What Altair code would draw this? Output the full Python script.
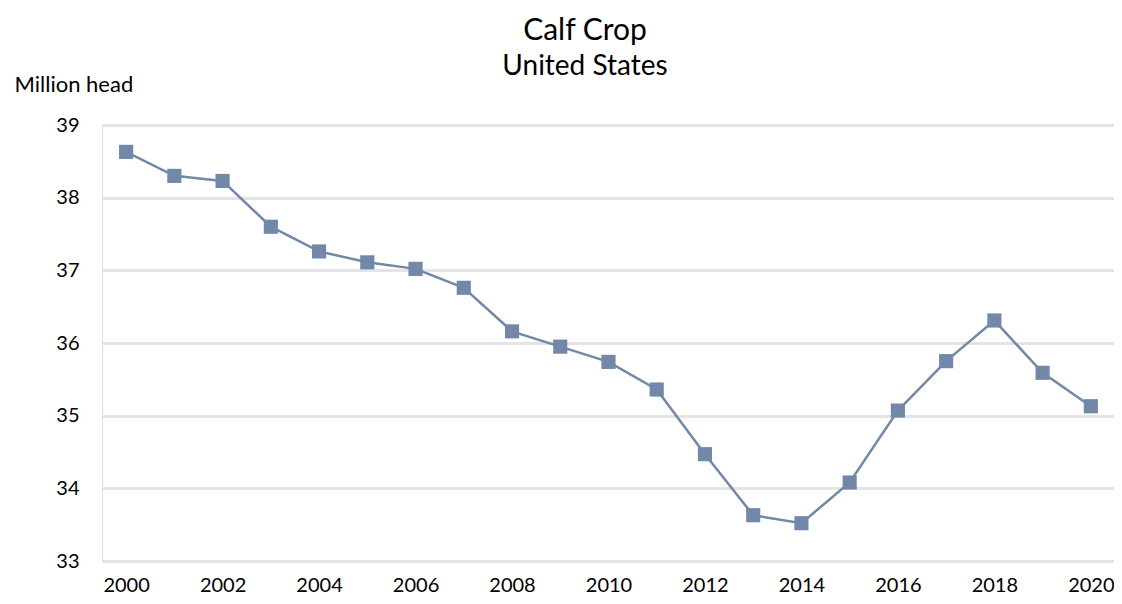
import altair as alt
import pandas as pd

years = list(range(2000, 2021))
calves = [38.63, 38.30, 38.23, 37.60, 37.26, 37.11, 37.02, 36.76, 36.16, 35.95,
          35.74, 35.36, 34.47, 33.63, 33.52, 34.08, 35.07, 35.75, 36.31, 35.59, 35.13]
x_ticks = list(range(2000, 2021, 2))
y_ticks = [33, 34, 35, 36, 37, 38, 39]

df = pd.DataFrame({"year": years, "value": calves})

FONT = "Lato"
COLOR = "#7288a8"

x = alt.X("year:Q",
          scale=alt.Scale(domain=[1999.5, 2020.48], nice=False, zero=False),
          axis=alt.Axis(values=x_ticks, format="d", title=None, grid=False,
                        domain=False, ticks=False, tickSize=0, labelPadding=14,
                        labelFontSize=20, labelFont=FONT, labelColor="#000000"))
y = alt.Y("value:Q",
          scale=alt.Scale(domain=[33, 39], nice=False, zero=False),
          axis=alt.Axis(values=y_ticks, title="Million head", titleAngle=0,
                        titleAlign="left", titleBaseline="alphabetic",
                        titleX=-88, titleY=-34, titleFont=FONT, titleFontSize=22,
                        titleFontWeight="normal", titleColor="#000000",
                        grid=True, gridColor="#e4e4e4", gridWidth=3,
                        domain=False, ticks=False, tickSize=0, labelPadding=23,
                        labelFontSize=20, labelFont=FONT, labelColor="#000000"))

line = alt.Chart(df).mark_line(color=COLOR, strokeWidth=2.5).encode(x=x, y=y)
pts = alt.Chart(df).mark_point(shape="square", filled=True, size=200,
                               color=COLOR, opacity=1).encode(x=x, y=y)

chart = (line + pts).properties(
    width=1012, height=436,
    autosize=alt.AutoSizeParams(type="none"),
    padding={"left": 94, "top": 117, "right": 0, "bottom": 35},
    title=alt.TitleParams(text="Calf Crop", subtitle="United States",
                          anchor="middle", frame="group", dx=-23,
                          font=FONT, fontSize=30, fontWeight="normal", color="#000000",
                          subtitleFont=FONT, subtitleFontSize=28, subtitleColor="#000000",
                          subtitlePadding=7, offset=-8),
).configure_view(stroke=None).configure(background="white")

chart.save("out.html", embed_options={"renderer": "svg", "actions": False})
